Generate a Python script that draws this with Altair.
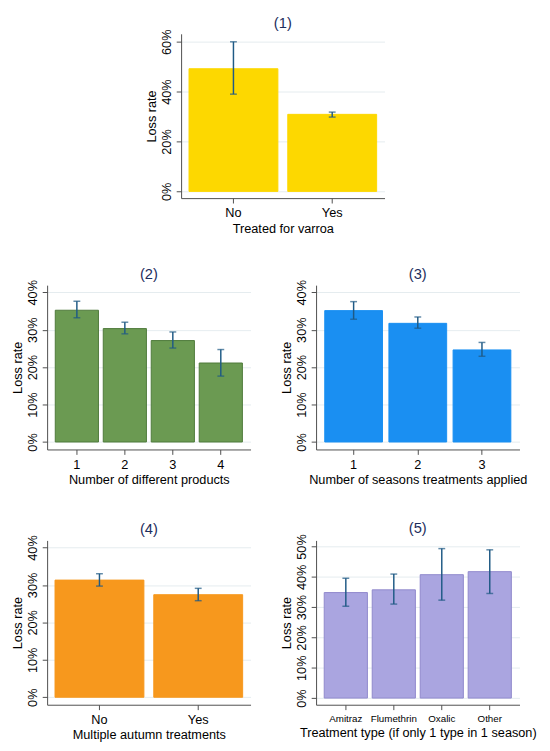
import altair as alt
import pandas as pd

# ---- data (percent) ----
p1_cats = ["No", "Yes"]
p1_vals = [49.2, 30.9]
p1_lo = [39.0, 29.8]
p1_hi = [60.0, 31.8]

p2_cats = ["1", "2", "3", "4"]
p2_vals = [35.2, 30.3, 27.1, 21.1]
p2_lo = [33.2, 28.9, 25.1, 17.6]
p2_hi = [37.6, 32.0, 29.4, 24.7]

p3_cats = ["1", "2", "3"]
p3_vals = [35.1, 31.7, 24.6]
p3_lo = [32.8, 30.4, 22.9]
p3_hi = [37.5, 33.4, 26.6]

p4_cats = ["No", "Yes"]
p4_vals = [31.3, 27.4]
p4_lo = [29.7, 25.8]
p4_hi = [33.0, 29.1]

p5_cats = ["Amitraz", "Flumethrin", "Oxalic", "Other"]
p5_vals = [34.8, 35.7, 40.7, 41.7]
p5_lo = [30.3, 31.0, 32.3, 34.5]
p5_hi = [39.5, 40.9, 49.3, 48.9]

FONT = "Liberation Sans"
ERR = "#1f5a85"
AX = "#4d4d4d"
W, H = 208, 168


def panel(title, cats, vals, lo, hi, color, stroke, xtitle, ticks, domain, po, label_size=13):
    df = pd.DataFrame({"cat": cats, "val": vals, "lo": lo, "hi": hi})
    xs = alt.Scale(paddingInner=0.1, paddingOuter=po)
    xaxis = alt.Axis(labelAngle=0, labelFontSize=label_size, titleFontSize=13,
                     labelPadding=4, titlePadding=3, tickSize=5,
                     domainColor=AX, tickColor=AX, labelColor="black",
                     titleColor="black", titleFontWeight="normal",
                     labelFont=FONT, titleFont=FONT)
    x = alt.X("cat:N", sort=cats, title=xtitle, scale=xs, axis=xaxis)
    ys = alt.Scale(domain=domain, nice=False)
    yaxis = alt.Axis(values=ticks, labelExpr="datum.value + '%'", labelAngle=270,
                     labelOverlap=False, labelFontSize=13, titleFontSize=13,
                     labelPadding=3, titlePadding=2, tickSize=5,
                     domainColor=AX, tickColor=AX,
                     grid=True, gridColor="#e4ecef", gridWidth=1,
                     labelColor="black", titleColor="black",
                     titleFontWeight="normal", labelFont=FONT, titleFont=FONT)
    base = alt.Chart(df)
    bars = base.mark_bar(color=color, stroke=stroke, strokeWidth=1).encode(
        x=x, y=alt.Y("val:Q", scale=ys, axis=yaxis, title="Loss rate"))
    rule = base.mark_rule(color=ERR, strokeWidth=1.5).encode(
        x=x, y=alt.Y("lo:Q", scale=ys, axis=yaxis, title="Loss rate"), y2="hi:Q")
    cap_lo = base.mark_tick(color=ERR, size=7, thickness=1.5).encode(
        x=x, y=alt.Y("lo:Q", scale=ys, axis=yaxis, title="Loss rate"))
    cap_hi = base.mark_tick(color=ERR, size=7, thickness=1.5).encode(
        x=x, y=alt.Y("hi:Q", scale=ys, axis=yaxis, title="Loss rate"))
    return alt.layer(bars, rule, cap_lo, cap_hi).properties(
        width=W, height=H,
        title=alt.TitleParams(title, fontSize=15, font=FONT, color="#1c2d5c",
                              fontWeight="normal", offset=-2))


c1 = panel("(1)", p1_cats, p1_vals, p1_lo, p1_hi, "#fdd800", "#fdd800",
           "Treated for varroa", [0, 20, 40, 60], [-2.7, 63.2], 0.08)
c2 = panel("(2)", p2_cats, p2_vals, p2_lo, p2_hi, "#6b9a52", "#4e7a3a",
           "Number of different products", [0, 10, 20, 30, 40], [-2.0, 41.9], 0.17)
c3 = panel("(3)", p3_cats, p3_vals, p3_lo, p3_hi, "#1a8ff2", "#1a8ff2",
           "Number of seasons treatments applied", [0, 10, 20, 30, 40], [-2.0, 41.9], 0.135)
c4 = panel("(4)", p4_cats, p4_vals, p4_lo, p4_hi, "#f7981d", "#f7981d",
           "Multiple autumn treatments", [0, 10, 20, 30, 40], [-2.0, 41.9], 0.08)
c5 = panel("(5)", p5_cats, p5_vals, p5_lo, p5_hi, "#aaa5e0", "#8f88cc",
           "Treatment type (if only 1 type in 1 season)", [0, 10, 20, 30, 40, 50],
           [-2.2, 52.0], 0.17, label_size=10)

spacer = alt.Chart(pd.DataFrame({"a": [0]})).mark_point(opacity=0).properties(
    width=101, height=1)

row1 = alt.hconcat(spacer, c1, spacing=0)
row2 = alt.hconcat(c2, c3, spacing=31)
row3 = alt.hconcat(c4, c5, spacing=31)

lower = alt.vconcat(row2, row3, spacing=35)

chart = alt.vconcat(row1, lower, spacing=32).properties(
    padding={"left": 4, "top": 0, "right": 5, "bottom": 5},
    background="white",
).configure_view(stroke=None)

chart.save("out.html", embed_options={"renderer": "svg", "actions": False})
